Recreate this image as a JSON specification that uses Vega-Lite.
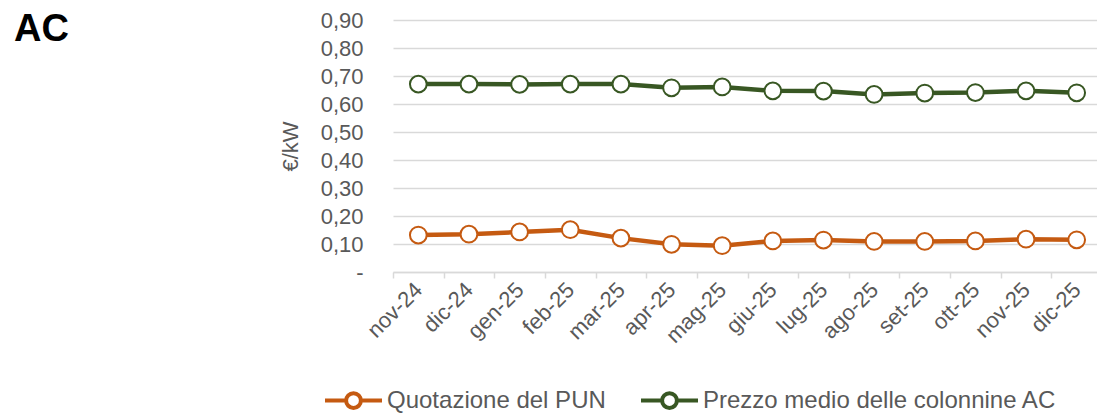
{
  "$schema": "https://vega.github.io/schema/vega-lite/v6.json",
  "autosize": {"type": "none"},
  "padding": {"left": 393, "top": 20, "right": 0, "bottom": 141},
  "width": 709,
  "height": 252,
  "background": "white",
  "title": {
    "text": "AC",
    "anchor": "start",
    "frame": "group",
    "orient": "top",
    "fontSize": 38,
    "fontWeight": "bold",
    "font": "Liberation Sans",
    "color": "#000000",
    "baseline": "alphabetic",
    "offset": 0,
    "dx": -379,
    "dy": 70
  },
  "config": {
    "font": "Liberation Sans",
    "view": {"stroke": null}
  },
  "data": {
    "values": [
      {"mese": "nov-24", "serie": "Quotazione del PUN", "valore": 0.132},
      {"mese": "dic-24", "serie": "Quotazione del PUN", "valore": 0.135},
      {"mese": "gen-25", "serie": "Quotazione del PUN", "valore": 0.143},
      {"mese": "feb-25", "serie": "Quotazione del PUN", "valore": 0.151},
      {"mese": "mar-25", "serie": "Quotazione del PUN", "valore": 0.121},
      {"mese": "apr-25", "serie": "Quotazione del PUN", "valore": 0.099},
      {"mese": "mag-25", "serie": "Quotazione del PUN", "valore": 0.094},
      {"mese": "giu-25", "serie": "Quotazione del PUN", "valore": 0.111},
      {"mese": "lug-25", "serie": "Quotazione del PUN", "valore": 0.114},
      {"mese": "ago-25", "serie": "Quotazione del PUN", "valore": 0.109},
      {"mese": "set-25", "serie": "Quotazione del PUN", "valore": 0.109},
      {"mese": "ott-25", "serie": "Quotazione del PUN", "valore": 0.111},
      {"mese": "nov-25", "serie": "Quotazione del PUN", "valore": 0.117},
      {"mese": "dic-25", "serie": "Quotazione del PUN", "valore": 0.115},
      {"mese": "nov-24", "serie": "Prezzo medio delle colonnine AC", "valore": 0.671},
      {"mese": "dic-24", "serie": "Prezzo medio delle colonnine AC", "valore": 0.671},
      {"mese": "gen-25", "serie": "Prezzo medio delle colonnine AC", "valore": 0.670},
      {"mese": "feb-25", "serie": "Prezzo medio delle colonnine AC", "valore": 0.671},
      {"mese": "mar-25", "serie": "Prezzo medio delle colonnine AC", "valore": 0.671},
      {"mese": "apr-25", "serie": "Prezzo medio delle colonnine AC", "valore": 0.658},
      {"mese": "mag-25", "serie": "Prezzo medio delle colonnine AC", "valore": 0.661},
      {"mese": "giu-25", "serie": "Prezzo medio delle colonnine AC", "valore": 0.647},
      {"mese": "lug-25", "serie": "Prezzo medio delle colonnine AC", "valore": 0.646},
      {"mese": "ago-25", "serie": "Prezzo medio delle colonnine AC", "valore": 0.634},
      {"mese": "set-25", "serie": "Prezzo medio delle colonnine AC", "valore": 0.639},
      {"mese": "ott-25", "serie": "Prezzo medio delle colonnine AC", "valore": 0.641},
      {"mese": "nov-25", "serie": "Prezzo medio delle colonnine AC", "valore": 0.647},
      {"mese": "dic-25", "serie": "Prezzo medio delle colonnine AC", "valore": 0.640}
    ]
  },
  "encoding": {
    "x": {
      "field": "mese",
      "type": "nominal",
      "sort": null,
      "scale": {"paddingInner": 0, "paddingOuter": 0},
      "axis": {
        "title": null,
        "labelAngle": -45,
        "labelAlign": "right",
        "labelBaseline": "middle",
        "labelFontSize": 22,
        "labelColor": "#595959",
        "labelPadding": 8,
        "domainColor": "#d9d9d9",
        "domainWidth": 1.5,
        "tickColor": "#d9d9d9",
        "tickWidth": 1.5,
        "tickSize": 6,
        "tickBand": "extent",
        "grid": false
      }
    },
    "y": {
      "field": "valore",
      "type": "quantitative",
      "scale": {"domain": [0, 0.9], "nice": false, "zero": true},
      "axis": {
        "title": "€/kW",
        "titleFontSize": 22,
        "titleFontWeight": "normal",
        "titleColor": "#595959",
        "titlePadding": 18,
        "values": [0, 0.1, 0.2, 0.3, 0.4, 0.5, 0.6, 0.7, 0.8, 0.9],
        "labelExpr": "datum.value == 0 ? '-\u00a0\u00a0' : replace(format(datum.value, '.2f'), '.', ',')",
        "labelFontSize": 22,
        "labelColor": "#595959",
        "labelPadding": 30,
        "ticks": false,
        "domain": false,
        "grid": true,
        "gridColor": "#d9d9d9",
        "gridWidth": 1.5
      }
    }
  },
  "layer": [
    {
      "mark": {"type": "line", "strokeWidth": 4.5},
      "encoding": {
        "color": {
          "field": "serie",
          "type": "nominal",
          "scale": {
            "domain": ["Quotazione del PUN", "Prezzo medio delle colonnine AC"],
            "range": ["#C55A11", "#385723"]
          },
          "legend": {
            "title": null,
            "orient": "none",
            "direction": "horizontal",
            "legendX": -70,
            "legendY": 350,
            "padding": 0,
            "labelFontSize": 24,
            "labelColor": "#595959",
            "labelOffset": 3,
            "labelLimit": 500,
            "columnPadding": 27,
            "symbolType": "M-1,0H-0.26A0.26,0.26,0,1,1,0.26,0A0.26,0.26,0,1,1,-0.26,0M0.26,0H1",
            "symbolSize": 3249,
            "symbolStrokeWidth": 4,
            "symbolFillColor": "white"
          }
        }
      }
    },
    {
      "mark": {"type": "point", "filled": true, "fill": "white", "size": 280, "strokeWidth": 2, "opacity": 1},
      "encoding": {
        "stroke": {
          "field": "serie",
          "type": "nominal",
          "scale": {
            "domain": ["Quotazione del PUN", "Prezzo medio delle colonnine AC"],
            "range": ["#C55A11", "#385723"]
          },
          "legend": null
        }
      }
    }
  ]
}
